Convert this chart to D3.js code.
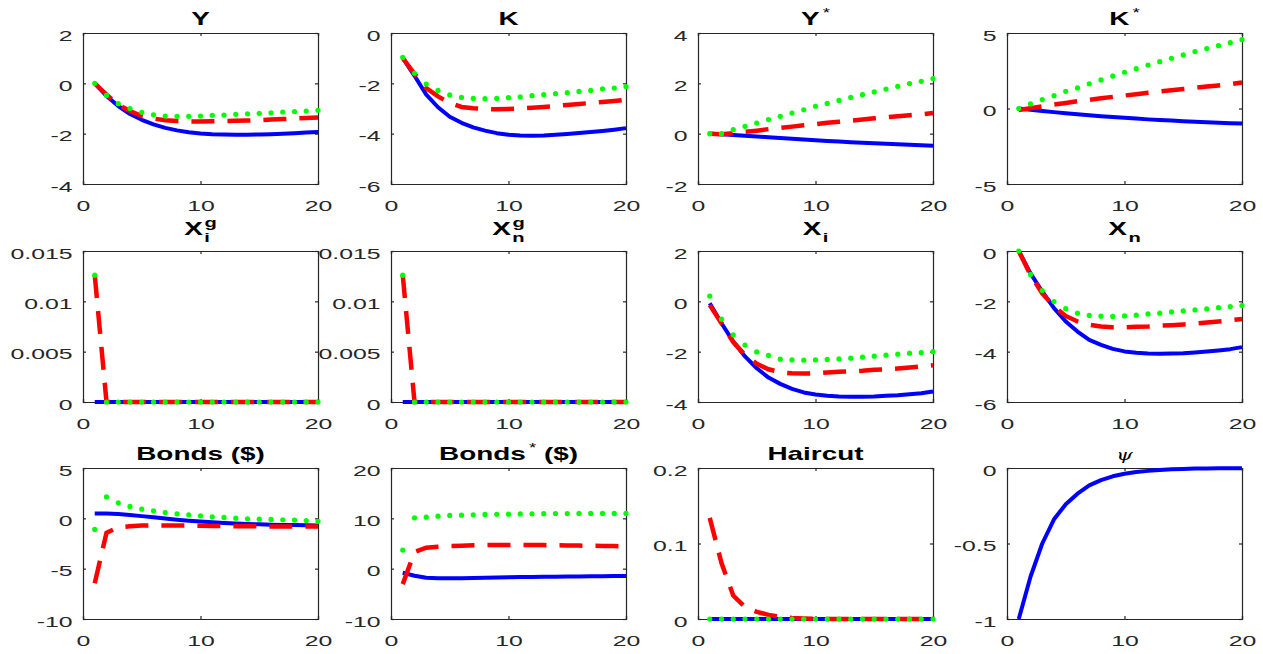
<!DOCTYPE html>
<html>
<head>
<meta charset="utf-8">
<script src="https://cdn.jsdelivr.net/npm/d3@7"></script>
<style>
  body { margin: 0; background: #fff; }
</style>
</head>
<body>
<div id="main"></div>
<script>
// impulse response horizon
var steps = [1,2,3,4,5,6,7,8,9,10,11,12,13,14,15,16,17,18,19,20];

// Y
var yBlue  = [0,-0.5,-0.9,-1.22,-1.45,-1.63,-1.77,-1.87,-1.94,-1.99,-2.02,-2.03,-2.04,-2.04,-2.03,-2.02,-2.0,-1.98,-1.95,-1.93];
var yRed   = [0,-0.45,-0.85,-1.1,-1.3,-1.4,-1.47,-1.5,-1.52,-1.52,-1.51,-1.5,-1.49,-1.48,-1.46,-1.44,-1.42,-1.4,-1.38,-1.36];
var yGreen = [0,-0.48,-0.81,-1.0,-1.15,-1.25,-1.3,-1.31,-1.31,-1.3,-1.27,-1.26,-1.23,-1.21,-1.19,-1.17,-1.14,-1.12,-1.1,-1.07];
// K
var kBlue  = [-0.99,-1.7,-2.45,-2.95,-3.33,-3.57,-3.75,-3.88,-3.98,-4.04,-4.07,-4.08,-4.07,-4.04,-4.01,-3.97,-3.93,-3.89,-3.84,-3.78];
var kRed   = [-1.0,-1.62,-2.19,-2.52,-2.78,-2.94,-2.99,-3.02,-3.03,-3.02,-3.0,-2.97,-2.94,-2.9,-2.86,-2.82,-2.78,-2.74,-2.7,-2.65];
var kGreen = [-0.97,-1.6,-2.03,-2.28,-2.46,-2.56,-2.6,-2.61,-2.6,-2.57,-2.54,-2.49,-2.45,-2.41,-2.37,-2.32,-2.28,-2.22,-2.19,-2.13];
// Y*
var ysBlue  = [0,-0.02,-0.05,-0.08,-0.11,-0.14,-0.17,-0.2,-0.23,-0.26,-0.29,-0.31,-0.34,-0.36,-0.38,-0.4,-0.42,-0.44,-0.46,-0.48];
var ysRed   = [0,-0.02,0.02,0.07,0.12,0.18,0.23,0.28,0.33,0.38,0.43,0.47,0.52,0.56,0.61,0.65,0.69,0.73,0.77,0.82];
var ysGreen = [0,0,0.16,0.29,0.42,0.56,0.69,0.82,0.95,1.09,1.2,1.32,1.44,1.55,1.66,1.77,1.88,1.99,2.08,2.19];
// K*
var ksBlue  = [0,-0.08,-0.16,-0.24,-0.31,-0.38,-0.45,-0.51,-0.57,-0.62,-0.67,-0.72,-0.76,-0.8,-0.84,-0.88,-0.91,-0.94,-0.97,-1.0];
var ksRed   = [-0.1,0.02,0.14,0.26,0.37,0.48,0.58,0.68,0.77,0.86,0.95,1.04,1.13,1.21,1.29,1.37,1.45,1.53,1.61,1.72];
var ksGreen = [0,0.3,0.59,0.85,1.14,1.36,1.64,1.89,2.15,2.4,2.64,2.88,3.1,3.32,3.55,3.77,3.97,4.16,4.36,4.56];
// X_i^g
var xigBlue  = [0,0,0,0,0,0,0,0,0,0,0,0,0,0,0,0,0,0,0,0];
var xigRed   = [0.0126,0,0,0,0,0,0,0,0,0,0,0,0,0,0,0,0,0,0,0];
var xigGreen = [0.0126,0,0,0,0,0,0,0,0,0,0,0,0,0,0,0,0,0,0,0];
// X_n^g
var xngBlue  = [0,0,0,0,0,0,0,0,0,0,0,0,0,0,0,0,0,0,0,0];
var xngRed   = [0.0126,0,0,0,0,0,0,0,0,0,0,0,0,0,0,0,0,0,0,0];
var xngGreen = [0.0126,0,0,0,0,0,0,0,0,0,0,0,0,0,0,0,0,0,0,0];
// X_i
var xiBlue  = [-0.08,-0.87,-1.6,-2.19,-2.66,-3.03,-3.28,-3.48,-3.62,-3.7,-3.75,-3.78,-3.79,-3.79,-3.78,-3.75,-3.73,-3.69,-3.65,-3.58];
var xiRed   = [-0.15,-0.87,-1.62,-2.13,-2.48,-2.7,-2.82,-2.86,-2.87,-2.86,-2.83,-2.8,-2.78,-2.76,-2.72,-2.7,-2.67,-2.63,-2.59,-2.54];
var xiGreen = [0.21,-0.71,-1.33,-1.74,-2.01,-2.15,-2.3,-2.33,-2.34,-2.33,-2.31,-2.29,-2.26,-2.22,-2.18,-2.14,-2.1,-2.06,-2.04,-2.0];
// X_n
var xnBlue  = [0,-0.89,-1.61,-2.27,-2.8,-3.2,-3.53,-3.73,-3.89,-3.99,-4.04,-4.07,-4.08,-4.07,-4.06,-4.03,-3.99,-3.95,-3.9,-3.82];
var xnRed   = [0,-0.95,-1.68,-2.2,-2.58,-2.8,-2.93,-3.0,-3.03,-3.03,-3.01,-3.0,-2.97,-2.95,-2.92,-2.88,-2.84,-2.8,-2.75,-2.7];
var xnGreen = [0,-0.93,-1.57,-2.01,-2.29,-2.47,-2.56,-2.59,-2.6,-2.58,-2.55,-2.5,-2.47,-2.42,-2.38,-2.34,-2.3,-2.25,-2.21,-2.17];
// Bonds ($)
var bBlue  = [0.48,0.47,0.42,0.33,0.22,0.1,-0.02,-0.13,-0.23,-0.32,-0.4,-0.46,-0.52,-0.56,-0.6,-0.63,-0.65,-0.67,-0.68,-0.7];
var bRed   = [-6.45,-1.43,-0.9,-0.78,-0.72,-0.7,-0.7,-0.71,-0.72,-0.74,-0.75,-0.77,-0.78,-0.79,-0.8,-0.8,-0.81,-0.81,-0.81,-0.82];
var bGreen = [-1.1,2.13,1.54,1.18,0.91,0.75,0.58,0.45,0.35,0.25,0.15,0.09,0.02,-0.04,-0.08,-0.11,-0.14,-0.17,-0.22,-0.3];
// Bonds* ($)
var bsBlue  = [-0.8,-1.4,-1.8,-1.9,-1.9,-1.88,-1.84,-1.8,-1.76,-1.72,-1.68,-1.65,-1.62,-1.59,-1.56,-1.54,-1.52,-1.5,-1.48,-1.45];
var bsRed   = [-3.07,3.3,4.17,4.37,4.5,4.57,4.63,4.68,4.7,4.7,4.7,4.7,4.68,4.65,4.62,4.58,4.55,4.52,4.48,4.45];
var bsGreen = [3.7,10.1,10.24,10.43,10.57,10.63,10.7,10.77,10.8,10.83,10.87,10.9,10.93,10.95,10.96,10.97,10.97,10.97,10.97,10.97];
// Haircut
var hBlue  = [0,0,0,0,0,0,0,0,0,0,0,0,0,0,0,0,0,0,0,0];
var hRed   = [0.134,0.074,0.031,0.016,0.0095,0.0055,0.0028,0.0014,0.0007,0.0003,0,0,0,0,0,0,0,0,0,0];
var hGreen = [0,0,0,0,0,0,0,0,0,0,0,0,0,0,0,0,0,0,0,0];
// psi
var psiBlue = [-1,-0.72,-0.5,-0.34,-0.24,-0.17,-0.115,-0.08,-0.055,-0.038,-0.027,-0.019,-0.013,-0.009,-0.006,-0.004,-0.003,-0.002,-0.0015,-0.001];

// axis ticks
var xTicks = [0,10,20];
var yTicks = [
  [-4,-2,0,2], [-6,-4,-2,0], [-2,0,2,4], [-5,0,5],
  [0,0.005,0.01,0.015], [0,0.005,0.01,0.015], [-4,-2,0,2], [-6,-4,-2,0],
  [-10,-5,0,5], [-10,0,10,20], [0,0.1,0.2], [-1,-0.5,0]
];

var panels = [
  {title: {base: "Y"}, blue: yBlue, red: yRed, green: yGreen},
  {title: {base: "K"}, blue: kBlue, red: kRed, green: kGreen},
  {title: {base: "Y", sup: "*"}, blue: ysBlue, red: ysRed, green: ysGreen},
  {title: {base: "K", sup: "*"}, blue: ksBlue, red: ksRed, green: ksGreen},
  {title: {base: "X", sup: "g", sub: "i"}, blue: xigBlue, red: xigRed, green: xigGreen},
  {title: {base: "X", sup: "g", sub: "n"}, blue: xngBlue, red: xngRed, green: xngGreen},
  {title: {base: "X", sub: "i"}, blue: xiBlue, red: xiRed, green: xiGreen},
  {title: {base: "X", sub: "n"}, blue: xnBlue, red: xnRed, green: xnGreen},
  {title: {base: "Bonds", tail: " ($)"}, blue: bBlue, red: bRed, green: bGreen},
  {title: {base: "Bonds", sup: "*", tail: " ($)"}, blue: bsBlue, red: bsRed, green: bsGreen},
  {title: {base: "Haircut"}, blue: hBlue, red: hRed, green: hGreen},
  {title: {base: "\u03c8", italic: true}, blue: psiBlue}
];

var colLeft = [83, 391, 698, 1007],
    rowTop = [33, 251, 468],
    plotW = 235,
    plotH = 151,
    stretch = 1.6,
    font = "'Liberation Sans', Arial, Helvetica, sans-serif";

var svg = d3.select("#main")
  .append("svg")
    .attr("width", 1263)
    .attr("height", 654)
    .style("background", "#fff");

panels.forEach(function(p, i) {
  var left = colLeft[i % 4], top = rowTop[Math.floor(i / 4)];
  var ticks = yTicks[i];

  var x = d3.scaleLinear().domain([0, 20]).range([0, plotW]);
  var y = d3.scaleLinear().domain([ticks[0], ticks[ticks.length - 1]]).range([plotH, 0]);

  var g = svg.append("g")
    .attr("transform", "translate(" + left + "," + top + ")");

  // box with inward ticks on all four sides
  g.append("g")
    .attr("transform", "translate(0," + plotH + ")")
    .call(d3.axisBottom(x).tickValues(xTicks).tickSize(-3).tickFormat(function(d) { return String(d); }))
    .call(styleAxis)
    .selectAll("text")
      .attr("x", null).attr("y", null).attr("dy", null)
      .attr("text-anchor", "middle")
      .attr("transform", "translate(0,26.5) scale(" + stretch + ",1)");

  g.append("g")
    .call(d3.axisTop(x).tickValues(xTicks).tickSize(-3).tickFormat(""))
    .call(styleAxis);

  g.append("g")
    .call(d3.axisLeft(y).tickValues(ticks).tickSize(-3).tickFormat(function(d) { return String(d); }))
    .call(styleAxis)
    .selectAll("text")
      .attr("x", null).attr("y", null).attr("dy", null)
      .attr("text-anchor", "end")
      .attr("transform", "translate(-10.5,7) scale(" + stretch + ",1)");

  g.append("g")
    .attr("transform", "translate(" + plotW + ",0)")
    .call(d3.axisRight(y).tickValues(ticks).tickSize(-3).tickFormat(""))
    .call(styleAxis);

  var line = d3.line()
    .x(function(d, j) { return x(steps[j]); })
    .y(function(d) { return y(d); });

  g.append("path")
    .datum(p.blue)
    .attr("d", line)
    .attr("fill", "none")
    .attr("stroke", "#0000ff")
    .attr("stroke-width", 4)
    .attr("stroke-linejoin", "round");

  if (p.red) {
    g.append("path")
      .datum(p.red)
      .attr("d", line)
      .attr("fill", "none")
      .attr("stroke", "#ff0000")
      .attr("stroke-width", 4.5)
      .attr("stroke-dasharray", "23,13");
  }

  if (p.green) {
    g.selectAll(".dot")
      .data(p.green)
      .enter()
      .append("circle")
        .attr("class", "dot")
        .attr("cx", function(d, j) { return x(steps[j]); })
        .attr("cy", function(d) { return y(d); })
        .attr("r", 2.6)
        .attr("fill", "#00ff00");
  }

  drawTitle(g, p.title, plotW / 2, i >= 4 && i < 8 ? -16 : -8);
});

function styleAxis(sel) {
  sel.select(".domain")
    .attr("stroke", "#262626")
    .attr("stroke-width", 1.2);
  sel.selectAll(".tick line")
    .attr("stroke", "#262626")
    .attr("stroke-width", 1.2);
  sel.selectAll(".tick text")
    .attr("fill", "#262626")
    .style("font-family", font)
    .style("font-size", "15.5px");
}

function drawTitle(g, t, cx, baseY) {
  var txt = g.append("text")
    .attr("text-anchor", "middle")
    .attr("transform", "translate(" + cx + "," + baseY + ") scale(" + (t.italic ? 1.4 : 1.55) + ",1)")
    .attr("fill", "#000")
    .style("font-family", t.italic ? "'DejaVu Serif', serif" : font)
    .style("font-weight", t.italic ? "normal" : "bold")
    .style("font-style", t.italic ? "italic" : "normal")
    .style("font-size", t.italic ? "15px" : "18px");

  txt.append("tspan").text(t.base);
  if (t.sup && t.sub) {
    txt.append("tspan").attr("dx", 1).attr("dy", -8).style("font-size", "13px").text(t.sup);
    txt.append("tspan").attr("dx", -8).attr("dy", 15).style("font-size", "13px").text(t.sub);
  } else if (t.sup) {
    txt.append("tspan").attr("dx", 2).attr("dy", -8).style("font-size", "12px").style("font-weight", "normal").text(t.sup);
    if (t.tail) txt.append("tspan").attr("dy", 8).text(t.tail);
  } else if (t.sub) {
    txt.append("tspan").attr("dx", 1).attr("dy", 7).style("font-size", "13px").text(t.sub);
  } else if (t.tail) {
    txt.append("tspan").text(t.tail);
  }
}
</script>
</body>
</html>
